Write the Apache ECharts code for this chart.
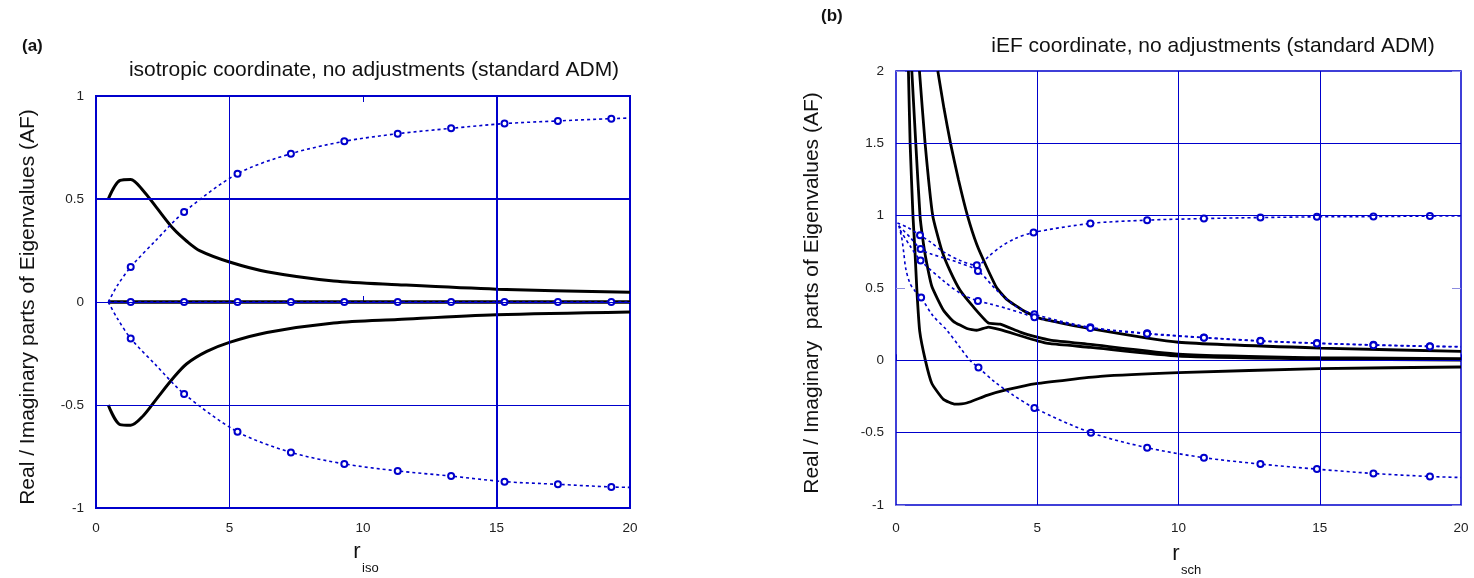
<!DOCTYPE html>
<html>
<head>
<meta charset="utf-8">
<script src="https://cdn.jsdelivr.net/npm/echarts@6/dist/echarts.min.js"></script>
<style>html,body{margin:0;padding:0;background:#fff;}#c{width:1474px;height:578px;}</style>
</head>
<body>
<div id="c"></div>
<script>
// ---------- Panel (a): isotropic coordinate ----------
const xTicksA = [0, 5, 10, 15, 20];
const yTicksA = [-1, -0.5, 0, 0.5, 1];
const aBlackUpper = [[0.46,0.5],[0.9,0.59],[1.3,0.595],[1.77,0.54],[2.27,0.458],[2.9,0.355],[3.4,0.295],[3.9,0.248],[5,0.194],[6.4,0.147],[8.9,0.102],[11.3,0.084],[15,0.062],[20,0.047]];
const aBlackLower = [[0.46,-0.5],[0.9,-0.595],[1.3,-0.598],[1.77,-0.552],[2.27,-0.47],[2.9,-0.368],[3.4,-0.3],[4.15,-0.24],[5,-0.196],[6.4,-0.148],[8.9,-0.102],[11.3,-0.085],[15,-0.062],[20,-0.048]];
const aBlackZero = [[0.46,0],[20,0]];
// third element 1 = drawn with a circle marker
const aBlueUpper = [[0.46,0,0],[0.8,0.08,0],[1.3,0.17,1],[2.27,0.303,0],[3.3,0.437,1],[5.3,0.623,1],[7.3,0.72,1],[9.3,0.78,1],[11.3,0.817,1],[13.3,0.843,1],[15.3,0.866,1],[17.3,0.879,1],[19.3,0.89,1],[20,0.893,0]];
const aBlueLower = [[0.46,0,0],[0.8,-0.08,0],[1.3,-0.177,1],[2.27,-0.31,0],[3.3,-0.446,1],[5.3,-0.63,1],[7.3,-0.73,1],[9.3,-0.786,1],[11.3,-0.82,1],[13.3,-0.845,1],[15.3,-0.872,1],[17.3,-0.885,1],[19.3,-0.898,1],[20,-0.9,0]];
const aBlueZero = [[0.46,0,0],[1.3,0,1],[3.3,0,1],[5.3,0,1],[7.3,0,1],[9.3,0,1],[11.3,0,1],[13.3,0,1],[15.3,0,1],[17.3,0,1],[19.3,0,1],[20,0,0]];
const aGridX = [5, 15];
const aGridY = [0.5, 0, -0.5];

// ---------- Panel (b): iEF coordinate ----------
const xTicksB = [0, 5, 10, 15, 20];
const yTicksB = [-1, -0.5, 0, 0.5, 1, 1.5, 2];
const bBlack1 = [[0.44,2.0],[0.5,1.5],[0.6,1.0],[0.67,0.76],[0.74,0.48],[0.84,0.2],[1.04,0.0],[1.27,-0.16],[1.68,-0.27],[2.09,-0.303],[2.5,-0.295],[3.22,-0.242],[3.93,-0.203],[4.96,-0.161],[7.23,-0.111],[10,-0.085],[15,-0.057],[20,-0.046]];
const bBlack2 = [[0.56,2.0],[0.7,1.5],[0.85,1.0],[0.94,0.85],[1.06,0.7],[1.27,0.51],[1.68,0.346],[2.03,0.27],[2.51,0.22],[2.86,0.208],[3.27,0.23],[3.69,0.212],[4.4,0.17],[5,0.135],[5.46,0.115],[6.88,0.09],[10,0.03],[15,0.01],[20,0.002]];
const bBlack3 = [[0.83,2.0],[1.03,1.5],[1.3,1.0],[1.62,0.76],[1.91,0.62],[2.27,0.484],[2.74,0.369],[3.27,0.258],[3.69,0.25],[4.4,0.195],[5,0.16],[5.46,0.14],[6.88,0.11],[10,0.043],[15,0.018],[20,0.012]];
const bBlack4 = [[1.48,2.0],[1.7,1.74],[1.93,1.5],[2.21,1.25],[2.53,1.0],[2.86,0.8],[3.22,0.64],[3.57,0.5],[3.93,0.42],[4.5,0.345],[5.1,0.29],[6.88,0.219],[10,0.125],[15,0.085],[20,0.062]];
const bBlue1 = [[0.05,0.95,0],[0.4,0.92,0],[0.85,0.865,1],[1.2,0.82,0],[1.68,0.75,0],[2.27,0.69,0],[2.86,0.657,1],[3.3,0.722,0],[3.7,0.784,0],[4.2,0.84,0],[4.87,0.884,1],[6.88,0.946,1],[8.89,0.969,1],[10.9,0.98,1],[12.9,0.987,1],[14.9,0.992,1],[16.9,0.994,1],[18.9,0.997,1],[20,0.998,0]];
const bBlue2 = [[0.1,0.93,0],[0.5,0.85,0],[0.87,0.77,1],[1.2,0.738,0],[2.15,0.68,0],[2.9,0.618,1],[3.57,0.484,0],[4.28,0.369,0],[4.9,0.318,1],[6.88,0.228,1],[8.89,0.187,1],[10.9,0.158,1],[12.9,0.135,1],[14.9,0.119,1],[16.9,0.107,1],[18.9,0.098,1],[20,0.095,0]];
const bBlue3 = [[0.15,0.9,0],[0.5,0.79,0],[0.87,0.69,1],[1.68,0.55,0],[2.3,0.46,0],[2.9,0.41,1],[3.33,0.39,0],[3.93,0.358,0],[4.5,0.323,0],[4.9,0.297,1],[6.88,0.224,1],[8.89,0.183,1],[10.9,0.156,1],[12.9,0.133,1],[14.9,0.117,1],[16.9,0.105,1],[18.9,0.096,1],[20,0.093,0]];
const bBlue4 = [[0.1,0.93,0],[0.2,0.85,0],[0.27,0.75,0],[0.35,0.63,0],[0.5,0.53,0],[0.67,0.48,0],[0.89,0.434,1],[1.3,0.31,0],[1.8,0.208,0],[2.3,0.08,0],[2.62,0.0,0],[2.92,-0.05,1],[3.5,-0.15,0],[4.16,-0.242,0],[4.9,-0.33,1],[6.9,-0.5,1],[8.89,-0.604,1],[10.9,-0.673,1],[12.9,-0.717,1],[14.9,-0.752,1],[16.9,-0.782,1],[18.9,-0.803,1],[20,-0.81,0]];
const bGridX = [5, 10, 15];
const bGridY = [1.5, 1, 0, -0.5];

// ---------- text ----------
const titleA = 'isotropic coordinate, no adjustments (standard ADM)';
const titleB = 'iEF coordinate, no adjustments (standard ADM)';
const yNameA = 'Real / Imaginary parts of Eigenvalues (AF)';
const yNameB = 'Real / Imaginary  parts of Eigenvalues (AF)';

const BLUE = '#0000cc';
const FONT = 'Liberation Sans, Arial, sans-serif';

const chart = echarts.init(document.getElementById('c'), null, {renderer: 'canvas'});

function black(grid, pts, w, s) {
  return {type: 'line', xAxisIndex: grid, yAxisIndex: grid, data: pts, showSymbol: false,
    smooth: s, lineStyle: {color: '#000', width: w}, z: 3, animation: false, silent: true};
}
function blue(grid, pts) {
  return {type: 'line', xAxisIndex: grid, yAxisIndex: grid, smooth: 0.3,
    data: pts.map(p => ({value: [p[0], p[1]], symbol: p[2] ? 'emptyCircle' : 'none'})),
    showSymbol: true, symbolSize: 6, showAllSymbol: true,
    itemStyle: {color: BLUE, borderColor: BLUE, borderWidth: 1},
    lineStyle: {color: BLUE, width: 1.6, type: [3, 3]}, z: 4, animation: false, silent: true};
}
function gridLines(grid, xs, ys, thickX, thickY) {
  const d = [];
  xs.forEach(v => d.push({xAxis: v, lineStyle: {width: thickX.includes(v) ? 2 : 1}}));
  ys.forEach(v => d.push({yAxis: v, lineStyle: {width: thickY.includes(v) ? 2 : 1}}));
  return {type: 'line', xAxisIndex: grid, yAxisIndex: grid, data: [], z: 1, animation: false, silent: true,
    markLine: {symbol: 'none', silent: true, animation: false, label: {show: false},
      lineStyle: {color: BLUE, type: 'solid', width: 1}, data: d}};
}

function xAx(grid, ticks, pos, labels, margin) {
  return {type: 'value', gridIndex: grid, position: pos, min: ticks[0], max: ticks[ticks.length - 1],
    interval: ticks[1] - ticks[0], splitLine: {show: false}, axisLine: {show: false},
    axisTick: {show: true, inside: true, length: 6, lineStyle: {color: BLUE, width: 1}},
    axisLabel: {show: labels, margin: margin, color: '#222', fontSize: 13.5, fontFamily: FONT}};
}
function yAx(grid, ticks, pos, labels, tickColor) {
  return {type: 'value', gridIndex: grid, position: pos, min: ticks[0], max: ticks[ticks.length - 1],
    interval: ticks[1] - ticks[0], splitLine: {show: false}, axisLine: {show: false},
    axisTick: {show: true, inside: true, length: 9, lineStyle: {color: tickColor, width: 1}},
    axisLabel: {show: labels, margin: 12, color: '#222', fontSize: 13.5, fontFamily: FONT}};
}

const option = {
  backgroundColor: '#fff',
  animation: false,
  grid: [
    {left: 96, top: 96, width: 534, height: 412, show: true, borderColor: BLUE, borderWidth: 2, backgroundColor: 'transparent'},
    {left: 896, top: 71, width: 565, height: 434, show: true, borderColor: BLUE, borderWidth: 1.5, backgroundColor: 'transparent'}
  ],
  xAxis: [xAx(0, xTicksA, 'bottom', true, 13), xAx(1, xTicksB, 'bottom', true, 16), xAx(0, xTicksA, 'top', false, 8)],
  yAxis: [yAx(0, yTicksA, 'left', true, BLUE), yAx(1, yTicksB, 'left', true, '#8c8ce0'), yAx(1, yTicksB, 'right', false, '#8c8ce0')],
  series: [
    gridLines(0, aGridX, aGridY, [15], [0.5]),
    black(0, aBlackUpper, 3, 0.3), black(0, aBlackLower, 3, 0.3), black(0, aBlackZero, 3.5, 0),
    blue(0, aBlueUpper), blue(0, aBlueLower), blue(0, aBlueZero),
    gridLines(1, bGridX, bGridY, [], []),
    black(1, bBlack1, 2.8, 0.15), black(1, bBlack2, 2.8, 0.15), black(1, bBlack3, 2.8, 0.15), black(1, bBlack4, 2.8, 0.15),
    blue(1, bBlue1), blue(1, bBlue2), blue(1, bBlue3), blue(1, bBlue4)
  ],
  graphic: [
    {type: 'text', left: 22, top: 38, style: {text: '(a)', font: 'bold 17px ' + FONT, fill: '#111'}},
    {type: 'text', x: 374, y: 70, style: {text: titleA, font: '21px ' + FONT, fill: '#111', align: 'center', verticalAlign: 'middle'}},
    {type: 'text', x: 28, y: 307, rotation: Math.PI / 2, style: {text: yNameA, font: '21px ' + FONT, fill: '#111', align: 'center', verticalAlign: 'middle'}},
    {type: 'text', x: 357, y: 552, style: {text: 'r', font: '22px ' + FONT, fill: '#111', align: 'center', verticalAlign: 'middle'}},
    {type: 'text', x: 362, y: 568, style: {text: 'iso', font: '13px ' + FONT, fill: '#111', align: 'left', verticalAlign: 'middle'}},
    {type: 'text', left: 821, top: 8, style: {text: '(b)', font: 'bold 17px ' + FONT, fill: '#111'}},
    {type: 'text', x: 1213, y: 46, style: {text: titleB, font: '21px ' + FONT, fill: '#111', align: 'center', verticalAlign: 'middle'}},
    {type: 'text', x: 812, y: 293, rotation: Math.PI / 2, style: {text: yNameB, font: '21px ' + FONT, fill: '#111', align: 'center', verticalAlign: 'middle'}},
    {type: 'text', x: 1176, y: 554, style: {text: 'r', font: '22px ' + FONT, fill: '#111', align: 'center', verticalAlign: 'middle'}},
    {type: 'text', x: 1181, y: 570, style: {text: 'sch', font: '13px ' + FONT, fill: '#111', align: 'left', verticalAlign: 'middle'}}
  ]
};
chart.setOption(option);
</script>
</body>
</html>
